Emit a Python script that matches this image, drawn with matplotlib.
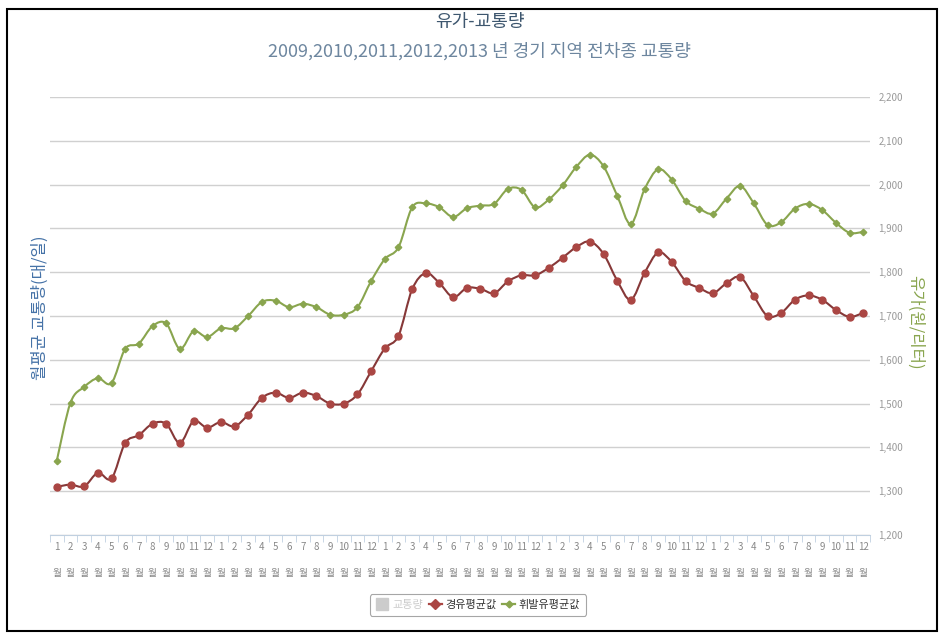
import numpy as np
import matplotlib
matplotlib.use('Agg')
import matplotlib.pyplot as plt
from matplotlib.path import Path
from matplotlib.patches import PathPatch, Rectangle
from matplotlib.lines import Line2D

plt.rcParams['font.family'] = ['Noto Sans CJK KR', 'DejaVu Sans']

months = [str(m) for m in range(1, 13)] * 5

# 휘발유 / 경유 monthly average price (won / litre), 2009-2013
gasoline = [1370, 1502, 1538, 1558, 1547, 1625, 1637, 1677, 1683, 1625, 1665, 1652,
            1672, 1672, 1700, 1732, 1735, 1720, 1728, 1720, 1703, 1703, 1720, 1780,
            1830, 1857, 1948, 1957, 1948, 1926, 1946, 1952, 1956, 1990, 1988, 1948,
            1966, 1998, 2040, 2068, 2042, 1975, 1910, 1989, 2035, 2011, 1963, 1945,
            1934, 1968, 1997, 1957, 1908, 1914, 1945, 1956, 1942, 1913, 1890, 1892]
diesel = [1310, 1315, 1311, 1342, 1329, 1410, 1428, 1454, 1454, 1410, 1460, 1445,
          1458, 1448, 1475, 1513, 1525, 1513, 1525, 1517, 1500, 1500, 1521, 1574,
          1626, 1655, 1761, 1798, 1775, 1743, 1764, 1762, 1752, 1779, 1793, 1793,
          1810, 1833, 1857, 1870, 1842, 1781, 1737, 1798, 1845, 1823, 1780, 1764,
          1752, 1775, 1789, 1745, 1700, 1707, 1737, 1747, 1737, 1714, 1698, 1707]

yticks = list(range(1200, 2201, 100))

RED = '#AA4643'
GREEN = '#89A54E'
BLUE = '#4572A7'


def spline_path(xs, ys, smooth=6.0):
    """cubic bezier path through the points (catmull-rom style)"""
    pts = np.column_stack([xs, ys]).astype(float)
    verts = [tuple(pts[0])]
    codes = [Path.MOVETO]
    n = len(pts)
    for i in range(n - 1):
        p0 = pts[i - 1] if i > 0 else pts[i]
        p1 = pts[i]
        p2 = pts[i + 1]
        p3 = pts[i + 2] if i + 2 < n else pts[i + 1]
        c1 = p1 + (p2 - p0) / smooth
        c2 = p2 - (p3 - p1) / smooth
        verts += [tuple(c1), tuple(c2), tuple(p2)]
        codes += [Path.CURVE4] * 3
    return Path(verts, codes)


fig = plt.figure(figsize=(9.48, 6.42), dpi=100)
ax = fig.add_axes([50 / 948, 1 - 535 / 642, 820 / 948, 438 / 642])

x = np.arange(len(months))

ax.add_patch(PathPatch(spline_path(x, diesel), fill=False, edgecolor='#863838',
                       lw=1.5, zorder=3))
ax.plot(x, diesel, ls='none', marker='o', ms=5, color=RED, zorder=4)
ax.add_patch(PathPatch(spline_path(x, gasoline), fill=False, edgecolor=GREEN,
                       lw=1.5, zorder=3))
ax.plot(x, gasoline, ls='none', marker='D', ms=3.3, color=GREEN, zorder=4)

ax.set_xlim(-0.5, len(months) - 0.5)
ax.set_ylim(1200, 2200)

ax.yaxis.tick_right()
ax.set_yticks(yticks)
ax.set_yticklabels(['{:,}'.format(v) for v in yticks], fontsize=7, color='#999999')
ax.tick_params(axis='y', length=0, pad=6)
ax.grid(axis='y', color='#D0D0D0', lw=1)
ax.set_axisbelow(True)

ax.set_xticks(x)
ax.set_xticklabels([m + '\n월' for m in months], fontsize=7, color='#888888',
                   linespacing=3.0)
ax.tick_params(axis='x', length=0, pad=5)
ax.set_xticks(np.arange(-0.5, len(months), 1), minor=True)
ax.tick_params(axis='x', which='minor', length=5, color='#C0D0E0')

for side in ['top', 'left', 'right']:
    ax.spines[side].set_visible(False)
ax.spines['bottom'].set_color('#C0D0E0')

fig.text(0.506, 1 - 22 / 642, '유가-교통량', ha='center', va='center',
         fontsize=13, color='#3E576F')
fig.text(0.506, 1 - 51 / 642, '2009,2010,2011,2012,2013 년 경기 지역 전차종 교통량',
         ha='center', va='center', fontsize=13, color='#6D869F')

fig.text(40 / 948, 1 - 308 / 642, '월평균 교통량(대/일)', rotation=90,
         ha='center', va='center', fontsize=12, color=BLUE)
fig.text(915 / 948, 1 - 322 / 642, '유가(원/리터)', rotation=270,
         ha='center', va='center', fontsize=12, color=GREEN)

handles = [
    Line2D([], [], ls='none', marker='s', ms=8, color='#CCCCCC'),
    Line2D([], [], color=RED, lw=1.6, marker='D', ms=5),
    Line2D([], [], color=GREEN, lw=1.6, marker='D', ms=3.5),
]
leg = fig.legend(handles, ['교통량', '경유평균값', '휘발유평균값'],
                 loc='center', bbox_to_anchor=(478 / 948, 1 - 605 / 642),
                 ncol=3, fontsize=8, frameon=True, fancybox=True,
                 handlelength=1.2, handletextpad=0.3, columnspacing=0.5,
                 borderpad=0.5, edgecolor='#909090')
leg.get_frame().set_linewidth(0.8)
leg.get_texts()[0].set_color('#CCCCCC')
leg.get_texts()[1].set_color('#333333')
leg.get_texts()[2].set_color('#333333')

fig.add_artist(Rectangle((7 / 948, 1 - 631 / 642), 930 / 948, 622 / 642,
                         transform=fig.transFigure, fill=False, lw=1.5,
                         edgecolor='black'))

fig.savefig('out.png', dpi=100)
